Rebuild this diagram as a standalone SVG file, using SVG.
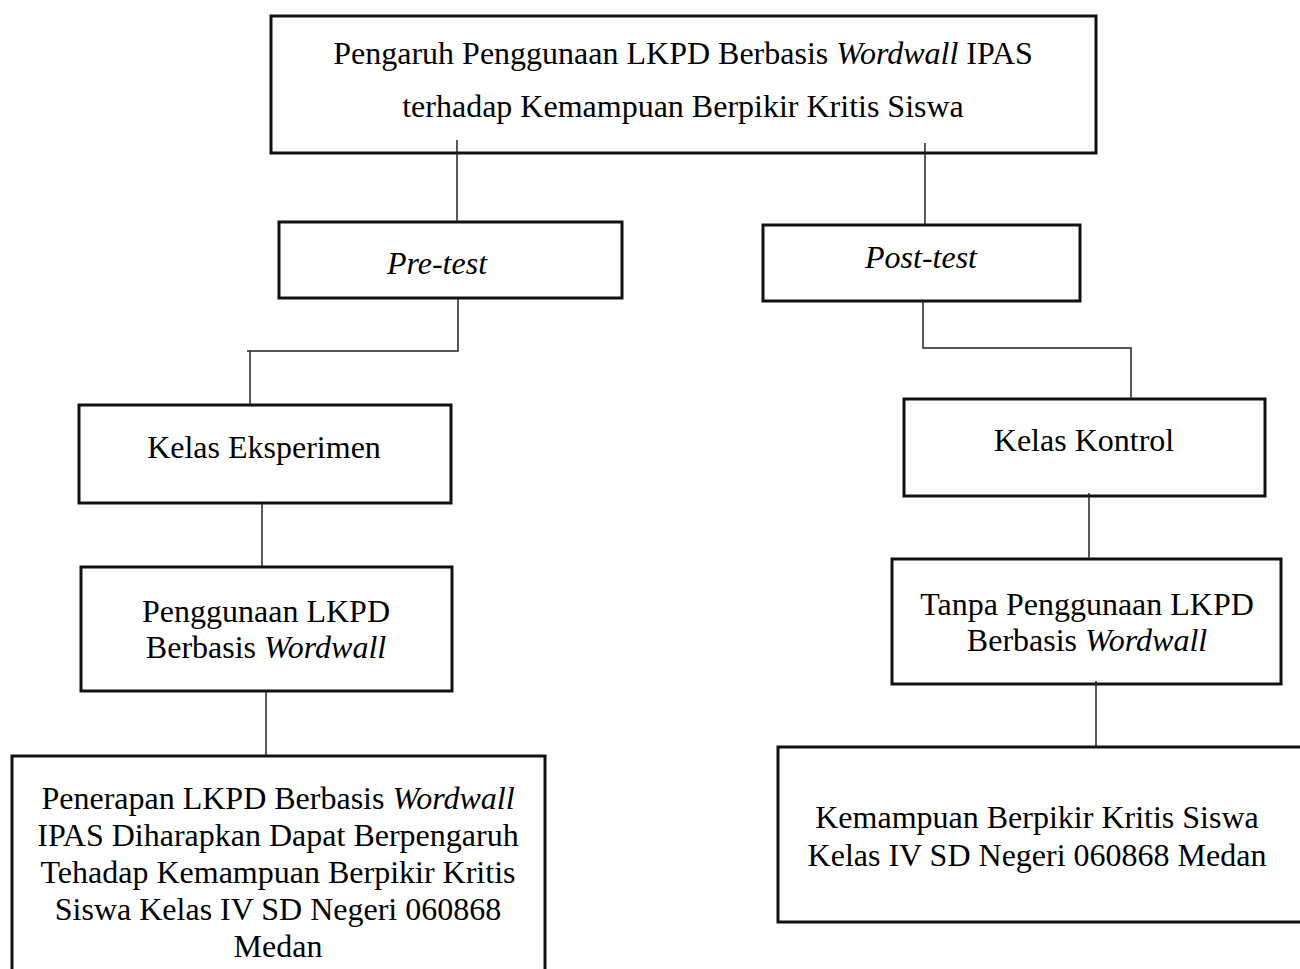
<svg xmlns="http://www.w3.org/2000/svg" width="1300" height="969" viewBox="0 0 1300 969">
<style>
.box{fill:#fff;stroke:#111;stroke-width:3}
.t{font-family:"Liberation Serif","Times New Roman",serif;font-size:32px;fill:#000;text-anchor:middle}
.i{font-style:italic}
.c{stroke:#222;stroke-width:1.5;fill:none}
</style>
<rect width="1300" height="969" fill="#fff"/>
<g id="title">
<rect class="box" x="271" y="16" width="825" height="137"/>
<text class="t" x="683" y="64">Pengaruh Penggunaan LKPD Berbasis <tspan class="i">Wordwall</tspan> IPAS</text>
<text class="t" x="683" y="117">terhadap Kemampuan Berpikir Kritis Siswa</text>
</g>
<g id="pretest">
<rect class="box" x="279" y="222" width="343" height="76"/>
<text class="t i" x="437" y="274">Pre-test</text>
</g>
<g id="posttest">
<rect class="box" x="763" y="225" width="317" height="76"/>
<text class="t i" x="921" y="268">Post-test</text>
</g>
<g id="kelas-eksperimen">
<rect class="box" x="79" y="405" width="372" height="98"/>
<text class="t" x="264" y="458">Kelas Eksperimen</text>
</g>
<g id="penggunaan">
<rect class="box" x="81" y="567" width="371" height="124"/>
<text class="t" x="266" y="622">Penggunaan LKPD</text>
<text class="t" x="266" y="658">Berbasis <tspan class="i">Wordwall</tspan></text>
</g>
<g id="penerapan">
<rect class="box" x="12" y="756" width="533" height="230"/>
<text class="t" x="278" y="809">Penerapan LKPD Berbasis <tspan class="i">Wordwall</tspan></text>
<text class="t" x="278" y="846">IPAS Diharapkan Dapat Berpengaruh</text>
<text class="t" x="278" y="883">Tehadap Kemampuan Berpikir Kritis</text>
<text class="t" x="278" y="920">Siswa Kelas IV SD Negeri 060868</text>
<text class="t" x="278" y="957">Medan</text>
</g>
<g id="kelas-kontrol">
<rect class="box" x="904" y="399" width="361" height="97"/>
<text class="t" x="1084" y="451">Kelas Kontrol</text>
</g>
<g id="tanpa">
<rect class="box" x="892" y="559" width="389" height="125"/>
<text class="t" x="1087" y="615">Tanpa Penggunaan LKPD</text>
<text class="t" x="1087" y="651">Berbasis <tspan class="i">Wordwall</tspan></text>
</g>
<g id="kemampuan">
<rect class="box" x="778" y="747" width="530" height="175"/>
<text class="t" x="1037" y="828">Kemampuan Berpikir Kritis Siswa</text>
<text class="t" x="1037" y="866">Kelas IV SD Negeri 060868 Medan</text>
</g>
<g id="connectors">
<line class="c" x1="457" y1="140" x2="457" y2="222"/>
<line class="c" x1="925" y1="143" x2="925" y2="225"/>
<polyline class="c" points="458,298 458,351 247,351"/>
<line class="c" x1="250" y1="351" x2="250" y2="405"/>
<polyline class="c" points="923,301 923,348 1131,348 1131,399"/>
<line class="c" x1="262" y1="503" x2="262" y2="567"/>
<line class="c" x1="266" y1="691" x2="266" y2="756"/>
<line class="c" x1="1089" y1="493" x2="1089" y2="559"/>
<line class="c" x1="1096" y1="681" x2="1096" y2="747"/>
</g>
</svg>
